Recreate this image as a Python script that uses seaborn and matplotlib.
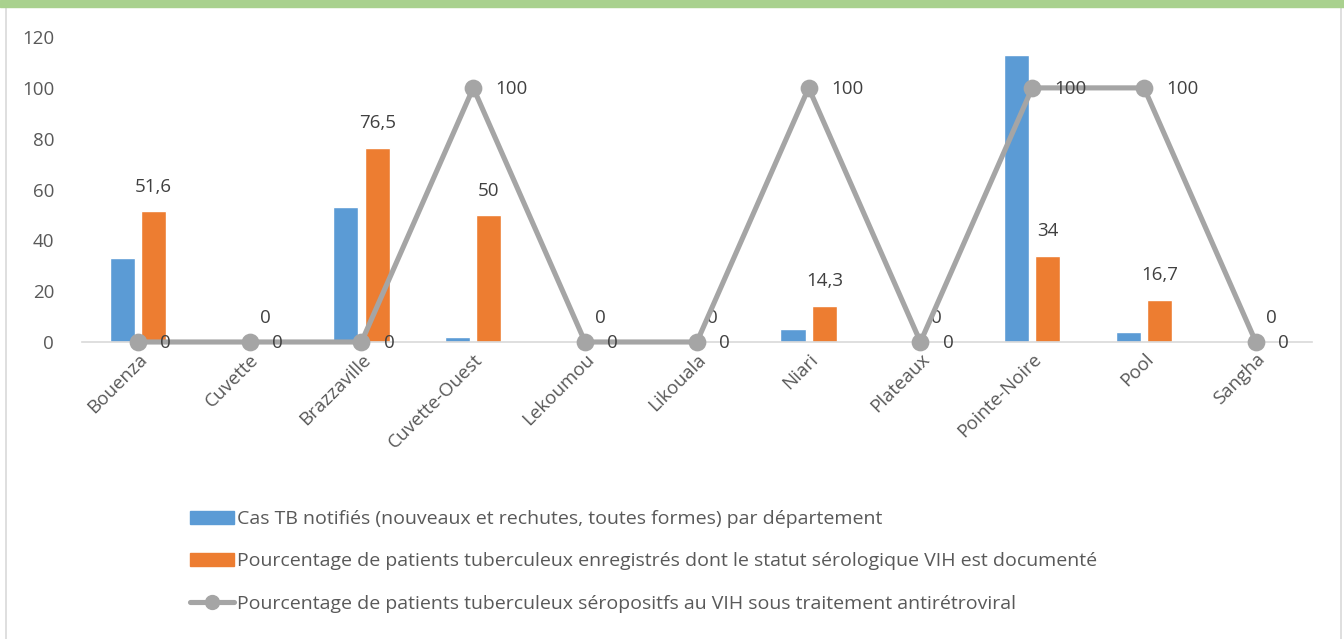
import pandas as pd
import seaborn as sns
import matplotlib.pyplot as plt
from matplotlib.patches import Patch, Rectangle
from matplotlib.lines import Line2D

# Data
departements = ['Bouenza', 'Cuvette', 'Brazzaville', 'Cuvette-Ouest', 'Lekoumou',
                'Likouala', 'Niari', 'Plateaux', 'Pointe-Noire', 'Pool', 'Sangha']
cas_tb = [33, 0, 53, 2, 0, 0, 5, 0, 113, 4, 0]
pct_vih_doc = [51.6, 0, 76.5, 50, 0, 0, 14.3, 0, 34, 16.7, 0]
pct_arv = [0, 0, 0, 100, 0, 0, 100, 0, 100, 100, 0]

lab_cas = 'Cas TB notifiés (nouveaux et rechutes, toutes formes) par département'
lab_doc = 'Pourcentage de patients tuberculeux enregistrés dont le statut sérologique VIH est documenté'
lab_arv = 'Pourcentage de patients tuberculeux séropositfs au VIH sous traitement antirétroviral'

blue = '#5B9BD5'
orange = '#ED7D31'
grey = '#A5A5A5'
txt = '#595959'
fs = 13.5

bars = pd.DataFrame({
    'dep': departements * 2,
    'val': cas_tb + pct_vih_doc,
    'serie': [lab_cas] * len(departements) + [lab_doc] * len(departements),
})
line = pd.DataFrame({'dep': departements, 'val': pct_arv})

sns.set_style('white')
plt.rcParams['font.family'] = ['Open Sans', 'DejaVu Sans']

fig = plt.figure(figsize=(13.44, 6.39), dpi=100)
ax = fig.add_axes([0.061, 0.4648, 0.915, 0.4772])

sns.barplot(data=bars, x='dep', y='val', hue='serie', order=departements,
            palette=[blue, orange], saturation=1, width=0.56, gap=0.2,
            legend=False, ax=ax)
sns.pointplot(data=line, x='dep', y='val', order=departements, color=grey,
              markers='o', markersize=10, linewidth=3.7, ax=ax)
for ln in ax.lines:
    ln.set_clip_on(False)
    ln.set_zorder(4)

ax.set_xlim(-0.5, len(departements) - 0.5)
ax.set_ylim(0, 120)
ax.set_yticks(range(0, 121, 20))
ax.set_xlabel('')
ax.set_ylabel('')
for s in ['top', 'right', 'left']:
    ax.spines[s].set_visible(False)
ax.spines['bottom'].set_color('#D9D9D9')
ax.spines['bottom'].set_linewidth(1.2)
ax.tick_params(axis='both', length=0, colors=txt, labelsize=fs)
ax.tick_params(axis='y', pad=20)
ax.tick_params(axis='x', pad=6)
plt.setp(ax.get_xticklabels(), rotation=45, ha='right', rotation_mode='anchor')

# data labels
for i, v in enumerate(pct_vih_doc):
    ax.annotate(f'{v:g}'.replace('.', ','), (i + 0.14, v), xytext=(0, 11),
                textcoords='offset points', ha='center', va='bottom',
                fontsize=fs, color='#404040')
for i, v in enumerate(pct_arv):
    ax.annotate(f'{v:g}', (i, v), xytext=(16, -1), textcoords='offset points',
                ha='left', va='center', fontsize=fs, color='#404040', zorder=5)

# legend
handles = [Patch(color=blue), Patch(color=orange),
           Line2D([0], [0], color=grey, lw=3.7, marker='o', markersize=10)]
fig.legend(handles, [lab_cas, lab_doc, lab_arv], loc='upper left',
           bbox_to_anchor=(0.128, 0.229), frameon=False, fontsize=14,
           labelcolor=txt, handlelength=2.3, handleheight=0.7,
           handletextpad=0.15, labelspacing=1.25)

# frame and green band
fig.patches.append(Rectangle((0.0045, -0.01), 0.993, 1.0, transform=fig.transFigure,
                             fill=False, edgecolor='#D9D9D9', lw=1.2))
fig.patches.append(Rectangle((0, 0.989), 1, 0.011, transform=fig.transFigure,
                             color='#A9D18E', zorder=5))

plt.savefig('out.png', dpi=100)
